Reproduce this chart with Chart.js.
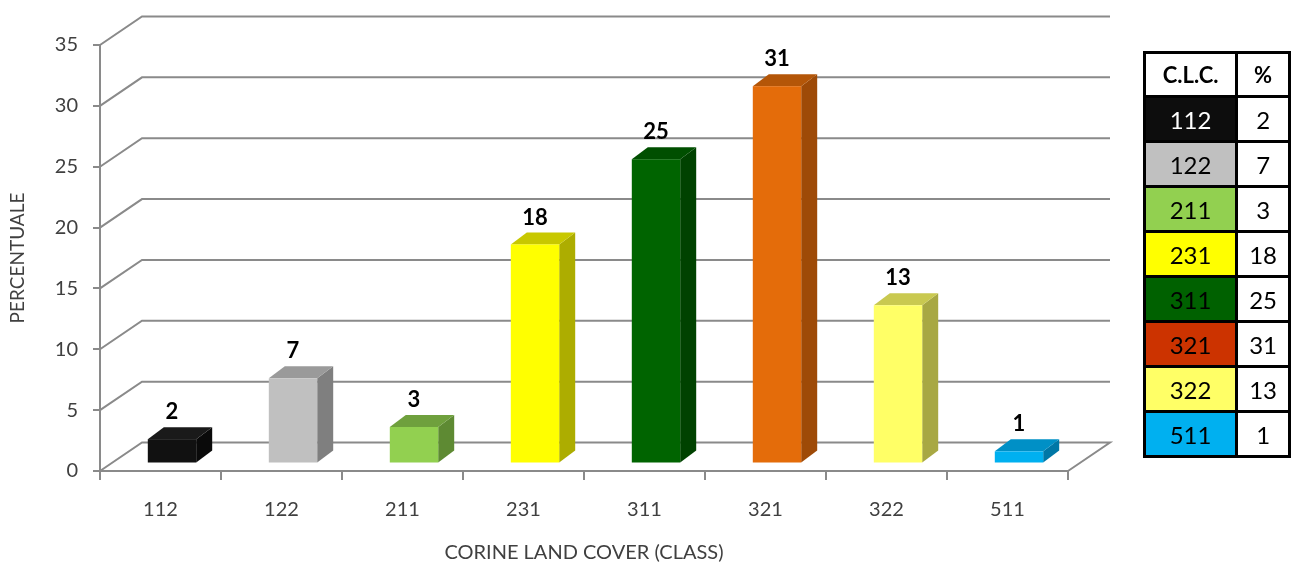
<!DOCTYPE html>
<html>
<head>
<meta charset="utf-8">
<script src="https://cdn.jsdelivr.net/npm/chart.js@4.4.1/dist/chart.umd.min.js"></script>
<style>
  html, body { margin: 0; padding: 0; background: #ffffff; }
  #wrap { position: relative; width: 1291px; height: 567px; overflow: hidden; }
  canvas { position: absolute; left: 0; top: 0; }
  #legend { position: absolute; left: 1143px; top: 51px; border-collapse: collapse;
    font-family: Lato, "Liberation Sans", sans-serif; font-size: 24px; color: #000; }
  #legend td, #legend th { border: 3px solid #000; text-align: center; padding: 0; }
  #legend th { height: 41px; font-weight: bold; font-size: 22px; background: #fff; }
  #legend td { height: 42px; }
  #legend td.c1, #legend th.c1 { width: 91px; }
  #legend td.c2, #legend th.c2 { width: 51px; }
</style>
</head>
<body>
<div id="wrap">
  <canvas id="c" width="1291" height="567"></canvas>
  <table id="legend"></table>
</div>
<script>
// ---- data ----
const categories = ['112', '122', '211', '231', '311', '321', '322', '511'];
const values = [2, 7, 3, 18, 25, 31, 13, 1];
const yTicks = [0, 5, 10, 15, 20, 25, 30, 35];
const frontColors = ['#111111', '#c0c0c0', '#92d050', '#ffff00', '#006400', '#e46c0a', '#ffff66', '#00b0f0'];
const topColors   = ['#1a1a1a', '#9a9a9a', '#6fa03d', '#c8c800', '#004f00', '#b45608', '#c9c950', '#0090c6'];
const sideColors  = ['#0a0a0a', '#7f7f7f', '#5e8a33', '#adad00', '#004200', '#9e4a07', '#a8a843', '#0077a6'];
const tableColors = ['#0d0d0d', '#c0c0c0', '#92d050', '#ffff00', '#006100', '#cc3300', '#ffff66', '#00b0f0'];
const tableText   = ['#ffffff', '#000000', '#000000', '#000000', '#000000', '#000000', '#000000', '#000000'];
const tableHeader = ['C.L.C.', '%'];
const xTitle = 'CORINE LAND COVER (CLASS)';
const yTitle = 'PERCENTUALE';

// ---- table legend ----
(function buildTable() {
  const t = document.getElementById('legend');
  let html = '<tr><th class="c1">' + tableHeader[0] + '</th><th class="c2">' + tableHeader[1] + '</th></tr>';
  categories.forEach((c, i) => {
    html += '<tr><td class="c1" style="background:' + tableColors[i] + ';color:' + tableText[i] + '">' + c +
            '</td><td class="c2">' + values[i] + '</td></tr>';
  });
  t.innerHTML = html;
})();

// ---- 3D geometry (styling only) ----
const WALL = { dx: 42, dy: -28.5 };
const FRONT = { dx: 11.5, dy: -7.5 };
const DEPTH = { dx: 16, dy: -12 };
const GRID_COLOR = '#8a8a8a';
const FONT = 'Lato, "Liberation Sans", sans-serif';

const threeD = {
  id: 'threeD',
  beforeDatasetsDraw(chart) {
    const { ctx } = chart;
    const y = chart.scales.y, x = chart.scales.x;
    const left = x.left, right = x.right;
    ctx.save();
    ctx.strokeStyle = GRID_COLOR;
    ctx.lineWidth = 2;
    ctx.lineJoin = 'miter';
    yTicks.forEach(v => {
      const py = y.getPixelForValue(v);
      ctx.beginPath();
      ctx.moveTo(left, py);
      ctx.lineTo(left + WALL.dx, py + WALL.dy);
      ctx.lineTo(right + WALL.dx, py + WALL.dy);
      if (v === 0) ctx.lineTo(right, py);
      ctx.stroke();
    });
    ctx.restore();
  },
  afterDatasetsDraw(chart) {
    const { ctx } = chart;
    const meta = chart.getDatasetMeta(0);
    ctx.save();
    meta.data.forEach((el, i) => {
      const p = el.getProps(['x', 'y', 'base', 'width'], true);
      const l = p.x - p.width / 2 + FRONT.dx, r = p.x + p.width / 2 + FRONT.dx;
      const t = p.y + FRONT.dy, b = p.base + FRONT.dy;
      // side
      ctx.fillStyle = sideColors[i];
      ctx.beginPath();
      ctx.moveTo(r, t); ctx.lineTo(r + DEPTH.dx, t + DEPTH.dy);
      ctx.lineTo(r + DEPTH.dx, b + DEPTH.dy); ctx.lineTo(r, b); ctx.closePath(); ctx.fill();
      // top
      ctx.fillStyle = topColors[i];
      ctx.beginPath();
      ctx.moveTo(l, t); ctx.lineTo(l + DEPTH.dx, t + DEPTH.dy);
      ctx.lineTo(r + DEPTH.dx, t + DEPTH.dy); ctx.lineTo(r, t); ctx.closePath(); ctx.fill();
      // front
      ctx.fillStyle = frontColors[i];
      ctx.fillRect(l, t, r - l, b - t);
      // label
      ctx.fillStyle = '#000';
      ctx.font = 'bold 22px ' + FONT;
      ctx.textAlign = 'center';
      ctx.textBaseline = 'middle';
      ctx.fillText(String(values[i]), (l + r) / 2, t + DEPTH.dy - 15);
    });
    ctx.restore();
  }
};

new Chart(document.getElementById('c'), {
  type: 'bar',
  data: {
    labels: categories,
    datasets: [{
      data: values,
      backgroundColor: 'rgba(0,0,0,0)',
      borderWidth: 0,
      categoryPercentage: 1,
      barPercentage: 0.4
    }]
  },
  options: {
    responsive: false,
    animation: false,
    events: [],
    layout: { padding: { left: 0, top: 45, right: 223, bottom: 0 } },
    plugins: { legend: { display: false }, tooltip: { enabled: false } },
    scales: {
      x: {
        offset: true,
        afterFit(s) { s.height = 96; },
        grid: { display: true, drawOnChartArea: false, offset: true, tickLength: 9, color: GRID_COLOR, lineWidth: 2 },
        border: { display: true, color: GRID_COLOR, width: 2 },
        ticks: { padding: 18, color: '#404040', font: { family: FONT, size: 20 } },
        title: { display: true, text: xTitle, color: '#404040', font: { family: FONT, size: 20 }, padding: { top: 0, bottom: 2 } }
      },
      y: {
        min: 0, max: 35,
        afterFit(s) { s.width = 100; },
        afterBuildTicks(s) { s.ticks = yTicks.map(v => ({ value: v })); },
        grid: { display: true, drawOnChartArea: false, tickLength: 7, color: GRID_COLOR, lineWidth: 2 },
        border: { display: true, color: GRID_COLOR, width: 2 },
        ticks: { padding: 15, color: '#404040', font: { family: FONT, size: 20 } },
        title: { display: true, text: yTitle, color: '#404040', font: { family: FONT, size: 19 }, padding: { top: 6, bottom: 0 } }
      }
    }
  },
  plugins: [threeD]
});
</script>
</body>
</html>
